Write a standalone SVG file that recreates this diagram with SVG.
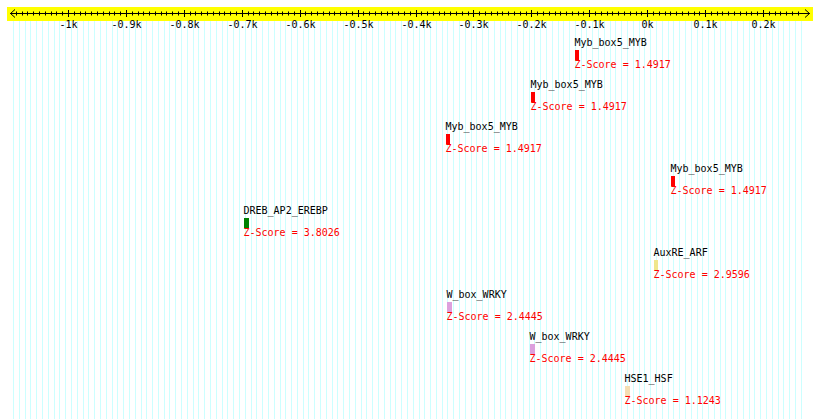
<svg xmlns="http://www.w3.org/2000/svg" width="820" height="419" viewBox="0 0 820 419">
<style>
text{font-family:"DejaVu Sans Mono","Liberation Mono",monospace;font-size:10px}
.lbl{fill:#000}
.z{fill:#ff0000}
.ax{fill:#000;text-anchor:middle}
.grid{stroke:#ccffff;stroke-width:1;fill:none}
.tk{stroke:#000;stroke-width:1;fill:none}
</style>
<rect width="820" height="419" fill="#ffffff"/>
<g id="grid">
<path class="grid" d="M13.5 21V419M19.5 21V419M25.5 21V419M30.5 21V419M36.5 21V419M42.5 21V419M48.5 21V419M54.5 21V419M59.5 21V419M65.5 21V419M71.5 21V419M77.5 21V419M83.5 21V419M88.5 21V419M94.5 21V419M100.5 21V419M106.5 21V419M112.5 21V419M117.5 21V419M123.5 21V419M129.5 21V419M135.5 21V419M141.5 21V419M146.5 21V419M152.5 21V419M158.5 21V419M164.5 21V419M169.5 21V419M175.5 21V419M181.5 21V419M187.5 21V419M193.5 21V419M198.5 21V419M204.5 21V419M210.5 21V419M216.5 21V419M222.5 21V419M227.5 21V419M233.5 21V419M239.5 21V419M245.5 21V419M251.5 21V419M256.5 21V419M262.5 21V419M268.5 21V419M274.5 21V419M280.5 21V419M285.5 21V419M291.5 21V419M297.5 21V419M303.5 21V419M308.5 21V419M314.5 21V419M320.5 21V419M326.5 21V419M332.5 21V419M337.5 21V419M343.5 21V419M349.5 21V419M355.5 21V419M361.5 21V419M366.5 21V419M372.5 21V419M378.5 21V419M384.5 21V419M390.5 21V419M395.5 21V419M401.5 21V419M407.5 21V419M413.5 21V419M419.5 21V419M424.5 21V419M430.5 21V419M436.5 21V419M442.5 21V419M447.5 21V419M453.5 21V419M459.5 21V419M465.5 21V419M471.5 21V419M476.5 21V419M482.5 21V419M488.5 21V419M494.5 21V419M500.5 21V419M505.5 21V419M511.5 21V419M517.5 21V419M523.5 21V419M529.5 21V419M534.5 21V419M540.5 21V419M546.5 21V419M552.5 21V419M558.5 21V419M563.5 21V419M569.5 21V419M575.5 21V419M581.5 21V419M586.5 21V419M592.5 21V419M598.5 21V419M604.5 21V419M610.5 21V419M615.5 21V419M621.5 21V419M627.5 21V419M633.5 21V419M639.5 21V419M644.5 21V419M650.5 21V419M656.5 21V419M662.5 21V419M668.5 21V419M673.5 21V419M679.5 21V419M685.5 21V419M691.5 21V419M697.5 21V419M702.5 21V419M708.5 21V419M714.5 21V419M720.5 21V419M725.5 21V419M731.5 21V419M737.5 21V419M743.5 21V419M749.5 21V419M754.5 21V419M760.5 21V419M766.5 21V419M772.5 21V419M778.5 21V419M783.5 21V419M789.5 21V419M795.5 21V419M801.5 21V419"/>
</g>
<g id="ruler">
<rect x="7" y="7" width="806" height="14" fill="#ffff00"/>
<path class="tk" d="M10 13.5H810M15 9.5L10.5 13.5L15 17.5M805 9.5L809.5 13.5L805 17.5"/>
<path class="tk" d="M68.5 10v7M126.5 10v7M184.5 10v7M242.5 10v7M300.5 10v7M358.5 10v7M416.5 10v7M473.5 10v7M531.5 10v7M589.5 10v7M647.5 10v7M705.5 10v7M763.5 10v7"/>
<path class="tk" d="M16.5 11.5v4M22.5 11.5v4M27.5 11.5v4M33.5 11.5v4M39.5 11.5v4M45.5 11.5v4M51.5 11.5v4M56.5 11.5v4M62.5 11.5v4M74.5 11.5v4M80.5 11.5v4M85.5 11.5v4M91.5 11.5v4M97.5 11.5v4M103.5 11.5v4M109.5 11.5v4M114.5 11.5v4M120.5 11.5v4M132.5 11.5v4M138.5 11.5v4M143.5 11.5v4M149.5 11.5v4M155.5 11.5v4M161.5 11.5v4M166.5 11.5v4M172.5 11.5v4M178.5 11.5v4M190.5 11.5v4M195.5 11.5v4M201.5 11.5v4M207.5 11.5v4M213.5 11.5v4M219.5 11.5v4M224.5 11.5v4M230.5 11.5v4M236.5 11.5v4M248.5 11.5v4M253.5 11.5v4M259.5 11.5v4M265.5 11.5v4M271.5 11.5v4M277.5 11.5v4M282.5 11.5v4M288.5 11.5v4M294.5 11.5v4M305.5 11.5v4M311.5 11.5v4M317.5 11.5v4M323.5 11.5v4M329.5 11.5v4M334.5 11.5v4M340.5 11.5v4M346.5 11.5v4M352.5 11.5v4M363.5 11.5v4M369.5 11.5v4M375.5 11.5v4M381.5 11.5v4M387.5 11.5v4M392.5 11.5v4M398.5 11.5v4M404.5 11.5v4M410.5 11.5v4M421.5 11.5v4M427.5 11.5v4M433.5 11.5v4M439.5 11.5v4M444.5 11.5v4M450.5 11.5v4M456.5 11.5v4M462.5 11.5v4M468.5 11.5v4M479.5 11.5v4M485.5 11.5v4M491.5 11.5v4M497.5 11.5v4M502.5 11.5v4M508.5 11.5v4M514.5 11.5v4M520.5 11.5v4M526.5 11.5v4M537.5 11.5v4M543.5 11.5v4M549.5 11.5v4M555.5 11.5v4M560.5 11.5v4M566.5 11.5v4M572.5 11.5v4M578.5 11.5v4M583.5 11.5v4M595.5 11.5v4M601.5 11.5v4M607.5 11.5v4M612.5 11.5v4M618.5 11.5v4M624.5 11.5v4M630.5 11.5v4M636.5 11.5v4M641.5 11.5v4M653.5 11.5v4M659.5 11.5v4M665.5 11.5v4M670.5 11.5v4M676.5 11.5v4M682.5 11.5v4M688.5 11.5v4M694.5 11.5v4M699.5 11.5v4M711.5 11.5v4M717.5 11.5v4M722.5 11.5v4M728.5 11.5v4M734.5 11.5v4M740.5 11.5v4M746.5 11.5v4M751.5 11.5v4M757.5 11.5v4M769.5 11.5v4M775.5 11.5v4M780.5 11.5v4M786.5 11.5v4M792.5 11.5v4M798.5 11.5v4"/>
<text class="ax" x="68.5" y="28">-1k</text>
<text class="ax" x="126.5" y="28">-0.9k</text>
<text class="ax" x="184.5" y="28">-0.8k</text>
<text class="ax" x="242.5" y="28">-0.7k</text>
<text class="ax" x="300.5" y="28">-0.6k</text>
<text class="ax" x="358.5" y="28">-0.5k</text>
<text class="ax" x="416.5" y="28">-0.4k</text>
<text class="ax" x="473.5" y="28">-0.3k</text>
<text class="ax" x="531.5" y="28">-0.2k</text>
<text class="ax" x="589.5" y="28">-0.1k</text>
<text class="ax" x="647.5" y="28">0k</text>
<text class="ax" x="705.5" y="28">0.1k</text>
<text class="ax" x="763.5" y="28">0.2k</text>
</g>
<g id="connectors"/>
<g id="myb1">
<text class="lbl" x="574.5" y="46">Myb_box5_MYB</text>
<rect x="575" y="50" width="4" height="10" fill="#ff0000"/>
<text class="z" x="574.5" y="68">Z-Score = 1.4917</text>
</g>
<g id="myb2">
<text class="lbl" x="530.5" y="88">Myb_box5_MYB</text>
<rect x="531" y="92" width="4" height="10" fill="#ff0000"/>
<text class="z" x="530.5" y="110">Z-Score = 1.4917</text>
</g>
<g id="myb3">
<text class="lbl" x="445.5" y="130">Myb_box5_MYB</text>
<rect x="446" y="134" width="4" height="10" fill="#ff0000"/>
<text class="z" x="445.5" y="152">Z-Score = 1.4917</text>
</g>
<g id="myb4">
<text class="lbl" x="670.5" y="172">Myb_box5_MYB</text>
<rect x="671" y="176" width="4" height="10" fill="#ff0000"/>
<text class="z" x="670.5" y="194">Z-Score = 1.4917</text>
</g>
<g id="dreb">
<text class="lbl" x="243.5" y="214">DREB_AP2_EREBP</text>
<rect x="244" y="218" width="5" height="10" fill="#008000"/>
<text class="z" x="243.5" y="236">Z-Score = 3.8026</text>
</g>
<g id="auxre">
<text class="lbl" x="653.5" y="256">AuxRE_ARF</text>
<rect x="654" y="260" width="4" height="10" fill="#f0e68c"/>
<text class="z" x="653.5" y="278">Z-Score = 2.9596</text>
</g>
<g id="wbox1">
<text class="lbl" x="446.5" y="298">W_box_WRKY</text>
<rect x="447" y="302" width="5" height="10" fill="#dda0dd"/>
<text class="z" x="446.5" y="320">Z-Score = 2.4445</text>
</g>
<g id="wbox2">
<text class="lbl" x="529.5" y="340">W_box_WRKY</text>
<rect x="530" y="344" width="5" height="10" fill="#dda0dd"/>
<text class="z" x="529.5" y="362">Z-Score = 2.4445</text>
</g>
<g id="hse1">
<text class="lbl" x="624.5" y="382">HSE1_HSF</text>
<rect x="625" y="386" width="5" height="10" fill="#f5deb3"/>
<text class="z" x="624.5" y="404">Z-Score = 1.1243</text>
</g>
</svg>
